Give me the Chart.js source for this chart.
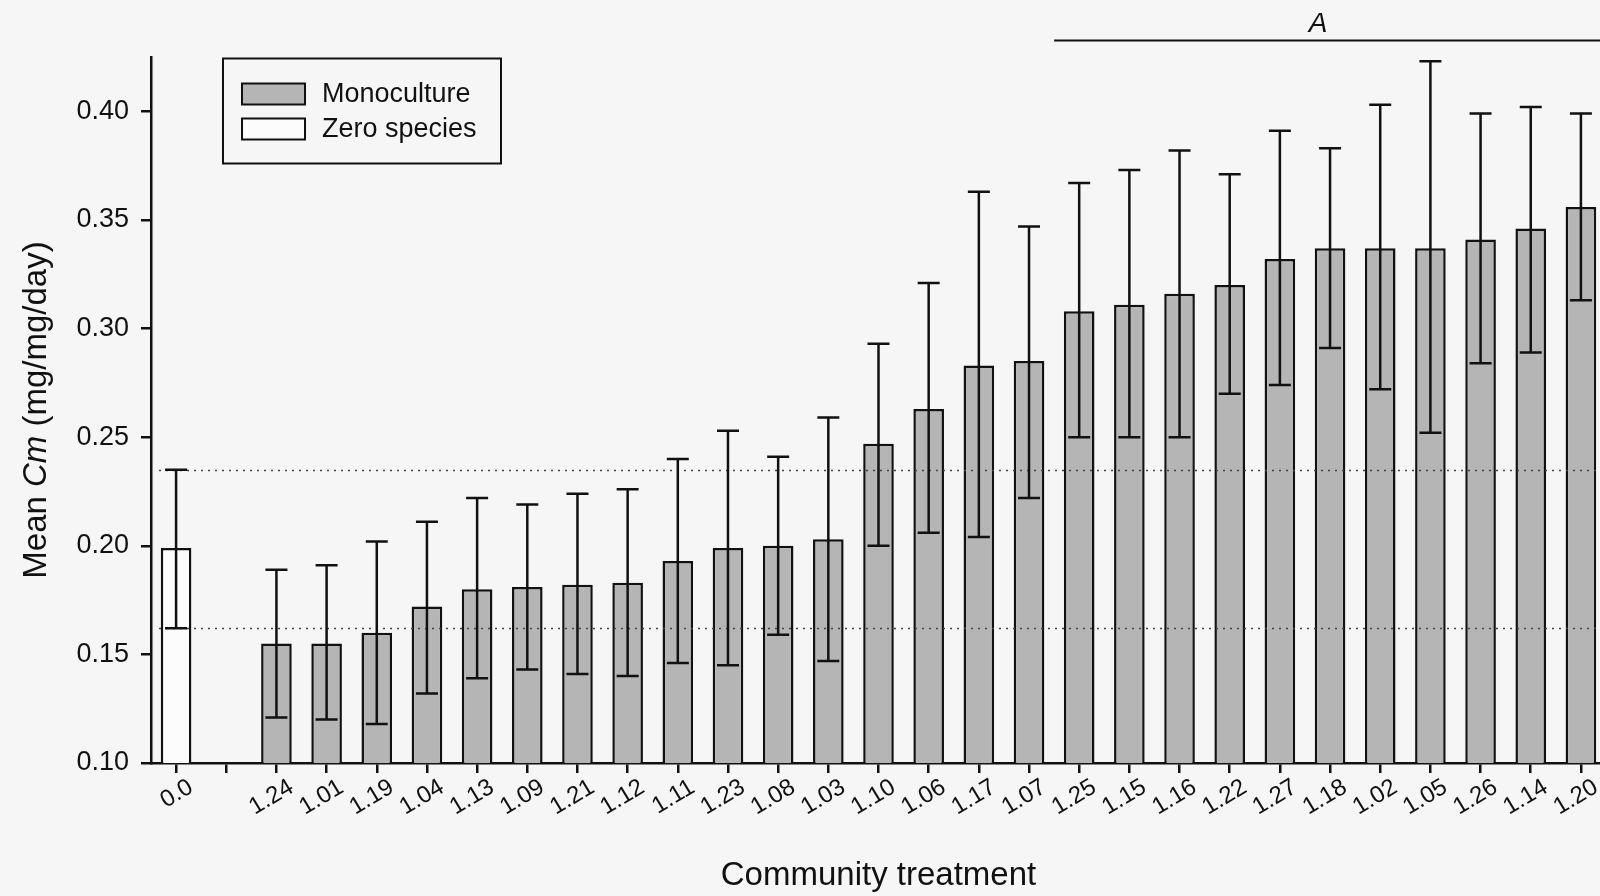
<!DOCTYPE html>
<html>
<head>
<meta charset="utf-8">
<script src="https://cdn.jsdelivr.net/npm/chart.js@4.4.1/dist/chart.umd.min.js"></script>
<style>
    html, body { margin: 0; padding: 0; overflow: hidden; background: #f6f6f6; }
    #myChart { display: block; }
</style>
</head>
<body>
<canvas id="myChart" width="1606" height="896"></canvas>
<script>
// Community treatments, in plotted order (second slot is an empty gap)
const treatments = ['0.0', '', '1.24', '1.01', '1.19', '1.04', '1.13', '1.09', '1.21', '1.12', '1.11',
    '1.23', '1.08', '1.03', '1.10', '1.06', '1.17', '1.07', '1.25', '1.15', '1.16', '1.22',
    '1.27', '1.18', '1.02', '1.05', '1.26', '1.14', '1.20'];

// Mean Cm for the zero species control and the monocultures
const zeroMeans = [0.199, null, null, null, null, null, null, null, null, null, null, null, null, null, null,
    null, null, null, null, null, null, null, null, null, null, null, null, null, null];
const monoMeans = [null, null, 0.155, 0.155, 0.160, 0.172, 0.180, 0.181, 0.182, 0.183, 0.193,
    0.199, 0.200, 0.203, 0.247, 0.263, 0.283, 0.285, 0.308, 0.311, 0.316, 0.320,
    0.332, 0.337, 0.337, 0.337, 0.341, 0.346, 0.356];

// Error bar ends (lower / upper) for every category
const lowerCI = [0.162, null, 0.121, 0.120, 0.118, 0.132, 0.139, 0.143, 0.141, 0.140, 0.146,
    0.145, 0.159, 0.147, 0.200, 0.206, 0.204, 0.222, 0.250, 0.250, 0.250, 0.270,
    0.274, 0.291, 0.272, 0.252, 0.284, 0.289, 0.313];
const upperCI = [0.235, null, 0.189, 0.191, 0.202, 0.211, 0.222, 0.219, 0.224, 0.226, 0.240,
    0.253, 0.241, 0.259, 0.293, 0.321, 0.363, 0.347, 0.367, 0.373, 0.382, 0.371,
    0.391, 0.383, 0.403, 0.423, 0.399, 0.402, 0.399];

// Y axis range and ticks
const yMin = 0.10;
const yMax = 0.425;
const yStep = 0.05;

// Group marker "A" starts at this category
const groupLabel = 'A';
const groupStart = 18;

const fontFamily = '"Liberation Sans", Arial, Helvetica, sans-serif';
Chart.defaults.font.family = fontFamily;
Chart.defaults.color = '#111';

// Dotted lines at the zero species interval, drawn over the bars
const refLines = {
    id: 'refLines',
    afterDatasetsDraw(chart) {
        const { ctx, chartArea, scales: { y } } = chart;
        ctx.save();
        ctx.strokeStyle = '#444';
        ctx.lineWidth = 1.5;
        ctx.setLineDash([2, 5]);
        [upperCI[0], lowerCI[0]].forEach(v => {
            const py = Math.round(y.getPixelForValue(v)) + 0.5;
            ctx.beginPath();
            ctx.moveTo(chartArea.left + 8, py);
            ctx.lineTo(chartArea.right, py);
            ctx.stroke();
        });
        ctx.restore();
    }
};

// Error bars with caps
const errorBars = {
    id: 'errorBars',
    afterDatasetsDraw(chart) {
        const { ctx, scales: { x, y } } = chart;
        ctx.save();
        ctx.strokeStyle = '#111';
        ctx.lineWidth = 2.5;
        for (let i = 0; i < treatments.length; i++) {
            if (lowerCI[i] == null) continue;
            const px = x.getPixelForValue(i);
            const top = y.getPixelForValue(upperCI[i]);
            const bot = y.getPixelForValue(lowerCI[i]);
            ctx.beginPath();
            ctx.moveTo(px, top);
            ctx.lineTo(px, bot);
            ctx.moveTo(px - 11, top);
            ctx.lineTo(px + 11, top);
            ctx.moveTo(px - 11, bot);
            ctx.lineTo(px + 11, bot);
            ctx.stroke();
        }
        ctx.restore();
    }
};

// Boxed legend in the upper left of the plot
const boxLegend = {
    id: 'boxLegend',
    afterDraw(chart) {
        const { ctx } = chart;
        ctx.save();
        ctx.strokeStyle = '#111';
        ctx.lineWidth = 2;
        ctx.strokeRect(223, 58.5, 278, 105);
        ctx.font = '27px ' + fontFamily;
        ctx.textBaseline = 'middle';
        ctx.fillStyle = '#111';
        chart.data.datasets.forEach((ds, i) => {
            const sy = 83.5 + i * 35;
            ctx.fillStyle = ds.backgroundColor;
            ctx.fillRect(242, sy, 63, 21);
            ctx.strokeRect(242, sy, 63, 21);
            ctx.fillStyle = '#111';
            ctx.fillText(ds.label, 322, sy + 11);
        });
        ctx.restore();
    }
};

// Group marker above the top bars and the y axis title with italic Cm
const annotations = {
    id: 'annotations',
    afterDraw(chart) {
        const { ctx, chartArea, scales: { x } } = chart;
        ctx.save();
        ctx.strokeStyle = '#111';
        ctx.lineWidth = 2;
        ctx.beginPath();
        ctx.moveTo(x.getPixelForValue(groupStart - 0.5), 40.5);
        ctx.lineTo(chart.width, 40.5);
        ctx.stroke();
        ctx.fillStyle = '#111';
        ctx.font = 'italic 28px ' + fontFamily;
        ctx.textAlign = 'center';
        ctx.textBaseline = 'middle';
        ctx.fillText(groupLabel, x.getPixelForValue(groupStart + 4.76), 24);

        // y axis title
        const parts = [['Mean ', false], ['Cm', true], [' (mg/mg/day)', false]];
        const size = 33;
        let total = 0;
        parts.forEach(p => {
            ctx.font = (p[1] ? 'italic ' : '') + size + 'px ' + fontFamily;
            total += ctx.measureText(p[0]).width;
        });
        ctx.translate(37, (chartArea.top + chartArea.bottom) / 2);
        ctx.rotate(-Math.PI / 2);
        ctx.textAlign = 'left';
        let cx = -total / 2;
        parts.forEach(p => {
            ctx.font = (p[1] ? 'italic ' : '') + size + 'px ' + fontFamily;
            ctx.fillText(p[0], cx, 0);
            cx += ctx.measureText(p[0]).width;
        });
        ctx.restore();
    }
};

const data = {
    labels: treatments,
    datasets: [
        {
            label: 'Monoculture',
            data: monoMeans,
            backgroundColor: '#b5b5b5',
            borderColor: '#111',
            borderWidth: 2.5,
            barPercentage: 0.61,
            categoryPercentage: 1,
            grouped: false
        },
        {
            label: 'Zero species',
            data: zeroMeans,
            backgroundColor: '#fcfcfc',
            borderColor: '#111',
            borderWidth: 2.5,
            barPercentage: 0.61,
            categoryPercentage: 1,
            grouped: false
        }
    ]
};

const options = {
    responsive: false,
    animation: false,
    layout: { padding: { top: 57, left: 0, right: 0, bottom: 0 } },
    plugins: {
        legend: { display: false },
        tooltip: { enabled: false }
    },
    scales: {
        x: {
            offset: true,
            grid: {
                display: true,
                offset: false,
                drawOnChartArea: false,
                drawTicks: true,
                tickLength: 10,
                color: '#111',
                lineWidth: 2.5
            },
            border: { display: true, color: '#111', width: 2.5 },
            ticks: {
                autoSkip: false,
                maxRotation: 31,
                minRotation: 31,
                padding: 0,
                labelOffset: 15,
                font: { size: 24 },
                color: '#111'
            },
            title: {
                display: true,
                text: 'Community treatment',
                font: { size: 33 },
                color: '#111',
                padding: { top: 0, bottom: 0 }
            },
            afterFit: s => {
                s.height = 133;
                s.paddingLeft = 0;
                s.paddingRight = 0;
            }
        },
        y: {
            min: yMin,
            max: yMax,
            grid: {
                display: true,
                drawOnChartArea: false,
                drawTicks: true,
                tickLength: 10,
                color: '#111',
                lineWidth: 2.5
            },
            border: { display: true, color: '#111', width: 2.5 },
            ticks: {
                stepSize: yStep,
                includeBounds: false,
                padding: 12,
                font: { size: 27 },
                color: '#111',
                callback: v => v.toFixed(2)
            },
            afterFit: s => {
                s.width = 151;
                s.paddingTop = 0;
                s.paddingBottom = 0;
            }
        }
    }
};

document.addEventListener('DOMContentLoaded', function () {
    const ctx = document.getElementById('myChart').getContext('2d');
    new Chart(ctx, {
        type: 'bar',
        data: data,
        options: options,
        plugins: [refLines, errorBars, boxLegend, annotations]
    });
});
</script>
</body>
</html>
